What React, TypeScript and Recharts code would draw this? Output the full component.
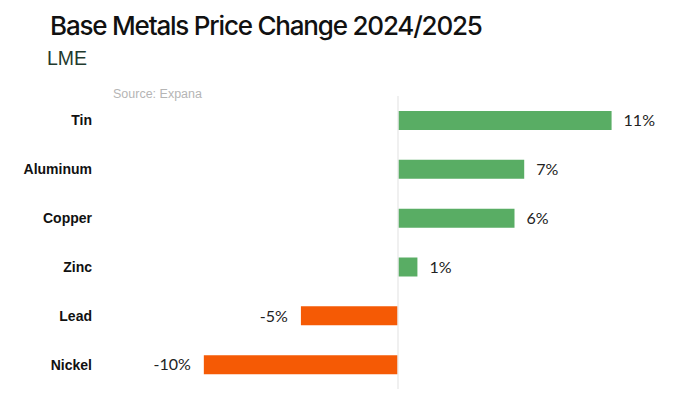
import React from 'react';
import { BarChart, Bar, XAxis, YAxis, Cell, ReferenceLine, LabelList } from 'recharts';

const categories = ['Tin', 'Aluminum', 'Copper', 'Zinc', 'Lead', 'Nickel'];
const changes = [11, 6.5, 6, 1, -5, -10];
const xDomain: [number, number] = [-12, 12];

const GREEN = '#59ad64';
const ORANGE = '#f55a05';

const data = categories.map((name, i) => ({ name, value: changes[i] }));

const ValueLabel = (props: any) => {
  const { x, y, width, height, value } = props;
  const left = Math.min(x, x + width);
  const right = Math.max(x, x + width);
  const cy = y + height / 2;
  const text = `${Math.round(value)}%`;
  if (value >= 0) {
    return (
      <text x={right + 12} y={cy} dy="0.36em" textAnchor="start" fontFamily="Lato" fontSize={16} fill="#222">
        {text}
      </text>
    );
  }
  return (
    <text x={left - 13} y={cy} dy="0.36em" textAnchor="end" fontFamily="Lato" fontSize={16} fill="#222">
      {text}
    </text>
  );
};

export default function App() {
  return (
    <div style={{ position: 'absolute', left: 0, top: 0, width: 688, height: 399, background: '#fff' }}>
      <div
        style={{
          position: 'absolute',
          left: 50,
          top: 8,
          fontFamily: 'Inter',
          fontWeight: 500,
          fontSize: 26,
          letterSpacing: -1.2,
          color: '#111',
          whiteSpace: 'nowrap',
          lineHeight: '36px',
        }}
      >
        Base Metals Price Change 2024/2025
      </div>
      <div
        style={{
          position: 'absolute',
          left: 47,
          top: 46,
          fontFamily: 'Liberation Sans',
          fontSize: 19.5,
          color: '#1f3a2e',
          whiteSpace: 'nowrap',
          lineHeight: '24px',
        }}
      >
        LME
      </div>
      <div
        style={{
          position: 'absolute',
          left: 113,
          top: 87,
          fontFamily: 'Liberation Sans',
          fontSize: 12.5,
          color: '#b5b5b5',
          whiteSpace: 'nowrap',
          lineHeight: '14px',
        }}
      >
        Source: Expana
      </div>
      <div style={{ position: 'absolute', left: 0, top: 0 }}>
        <BarChart
          width={688}
          height={399}
          data={data}
          layout="vertical"
          margin={{ top: 96, right: 57, bottom: 10, left: 0 }}
        >
          <XAxis type="number" domain={xDomain} hide />
          <YAxis
            type="category"
            dataKey="name"
            width={165}
            axisLine={false}
            tickLine={false}
            tickSize={0}
            tickMargin={73}
            tick={{ fontFamily: 'Liberation Sans', fontWeight: 700, fontSize: 14, fill: '#111' }}
          />
          <Bar dataKey="value" barSize={19} isAnimationActive={false}>
            {data.map((d, i) => (
              <Cell key={i} fill={d.value >= 0 ? GREEN : ORANGE} />
            ))}
            <LabelList dataKey="value" content={ValueLabel} />
          </Bar>
          <ReferenceLine x={0} stroke="#ebebeb" strokeWidth={1.5} />
        </BarChart>
      </div>
    </div>
  );
}
